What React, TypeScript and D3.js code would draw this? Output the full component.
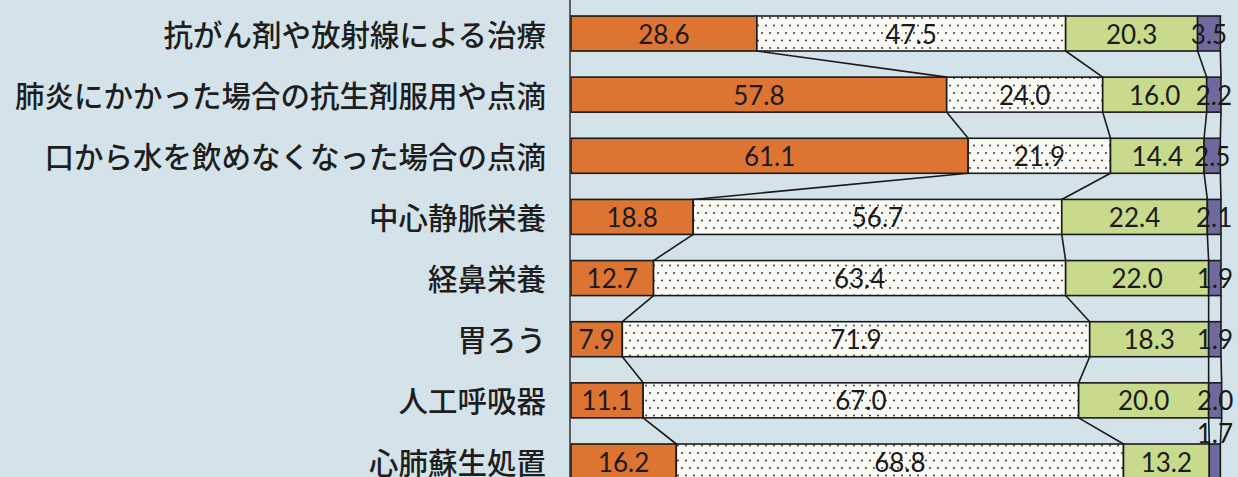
import React from 'react';
import * as d3 from 'd3';

const categories = [
  '抗がん剤や放射線による治療',
  '肺炎にかかった場合の抗生剤服用や点滴',
  '口から水を飲めなくなった場合の点滴',
  '中心静脈栄養',
  '経鼻栄養',
  '胃ろう',
  '人工呼吸器',
  '心肺蘇生処置',
];

const seriesA = [28.6, 57.8, 61.1, 18.8, 12.7, 7.9, 11.1, 16.2];
const seriesB = [47.5, 24.0, 21.9, 56.7, 63.4, 71.9, 67.0, 68.8];
const seriesC = [20.3, 16.0, 14.4, 22.4, 22.0, 18.3, 20.0, 13.2];
const seriesD = [3.5, 2.2, 2.5, 2.1, 1.9, 1.9, 2.0, 1.7];

const W = 1238;
const H = 477;

const fills = ['#DE7431', 'url(#dots)', '#C8DA8C', '#6E6A9E'];

const App: React.FC = () => {
  const x = d3.scaleLinear().domain([0, 100]).range([571, 1221]);
  const y = d3.scalePoint<string>().domain(categories).range([33.5, 461.5]);
  const barH = 35;

  const stack = d3.stack<number>().keys(['0', '1', '2', '3'])
    .value((i, k) => [seriesA, seriesB, seriesC, seriesD][+k][i]);
  const layers = stack(categories.map((_, i) => i));

  // cumulative boundaries per row, for the connector lines
  const bounds = categories.map((_, i) => layers.map(l => l[i][1]));

  return (
    <svg width={W} height={H} style={{ position: 'absolute', left: 0, top: 0 }}>
      <defs>
        <pattern id="dots" width="8" height="15" patternUnits="userSpaceOnUse">
          <rect width="8" height="15" fill="#FBFBF6" />
          <circle cx="2" cy="3" r="0.9" fill="#222" />
          <circle cx="6" cy="10.5" r="0.9" fill="#222" />
        </pattern>
      </defs>
      <rect width={W} height={H} fill="#D3E3E9" />

      {/* connector lines between rows */}
      {categories.slice(0, -1).map((c, i) =>
        bounds[i].map((b, k) => (
          <line key={`c${i}-${k}`}
            x1={x(b)} y1={y(c)! + barH / 2}
            x2={x(bounds[i + 1][k])} y2={y(categories[i + 1])! - barH / 2}
            stroke="#1a1a1a" strokeWidth={1.6} />
        ))
      )}

      {/* bars */}
      {layers.map((layer, k) =>
        layer.map((d, i) => (
          <rect key={`b${k}-${i}`}
            x={x(d[0])} y={y(categories[i])! - barH / 2}
            width={x(d[1]) - x(d[0])} height={barH}
            fill={fills[k]} stroke="#1a1a1a" strokeWidth={1.6} />
        ))
      )}

      {/* value labels */}
      {layers.map((layer, k) =>
        layer.map((d, i) => {
          const v = d[1] - d[0];
          const above = k === 3 && i === categories.length - 1;
          return (
            <text key={`v${k}-${i}`}
              x={x((d[0] + d[1]) / 2)}
              y={y(categories[i])! + (above ? -29 : 0)}
              textAnchor="middle" dominantBaseline="central"
              fontFamily="Lato, 'Open Sans', sans-serif" fontSize={26}
              fill="#1a1a1a">
              {v.toFixed(1)}
            </text>
          );
        })
      )}

      {/* axis */}
      <line x1={570} x2={570} y1={0} y2={H} stroke="#333" strokeWidth={1.5} />

      {/* category labels */}
      {categories.map(c => (
        <text key={c} x={546} y={y(c)! - 1} textAnchor="end" dominantBaseline="central"
          fontFamily="'Noto Sans CJK JP', sans-serif" fontSize={29.5} fontWeight={500}
          fill="#1e1e1e">
          {c}
        </text>
      ))}
    </svg>
  );
};

export default App;
